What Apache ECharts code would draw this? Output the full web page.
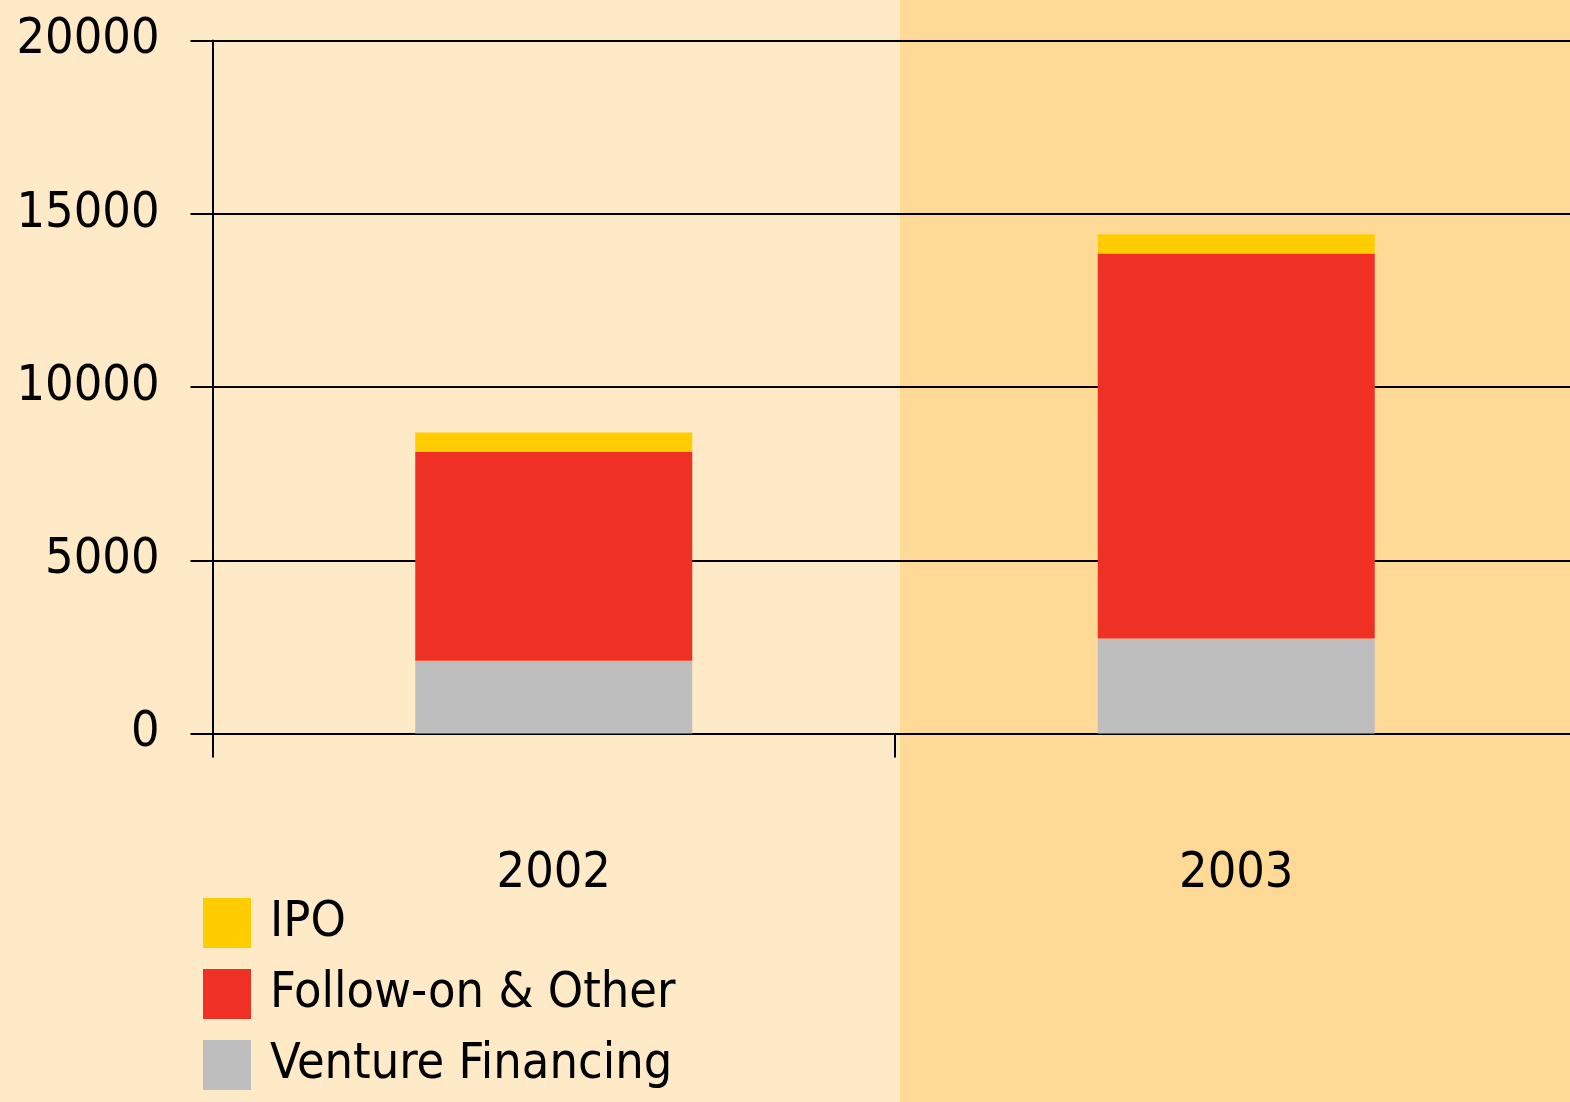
<!DOCTYPE html>
<html>
<head>
<meta charset="utf-8">
<script src="https://cdn.jsdelivr.net/npm/echarts@6/dist/echarts.min.js"></script>
<style>
html,body{margin:0;padding:0;background:#FEEAC6;}
#chart{width:1570px;height:1102px;}
</style>
</head>
<body>
<div id="chart"></div>
<script>
var categories = ['2002', '2003'];
var ventureFinancing = [2100, 2740];
var followOnOther = [6030, 11110];
var ipo = [560, 560];
var yTicks = [0, 5000, 10000, 15000, 20000];

var FONT = "'Liberation Sans Narrow', 'DejaVu Sans Condensed', sans-serif";
var FS = 50;

var chart = echarts.init(document.getElementById('chart'), null, {renderer: 'canvas'});
chart.setOption({
  backgroundColor: '#FEEAC6',
  animation: false,
  graphic: [{
    type: 'rect', z: -100, silent: true,
    shape: {x: 900, y: 0, width: 670, height: 1102},
    style: {fill: '#FEDA96'}
  }],
  grid: {left: 212.5, top: 40.5, width: 1365, height: 693, containLabel: false, outerBoundsMode: 'none'},
  legend: {
    orient: 'vertical', left: 203, top: 898, padding: 0,
    itemWidth: 48, itemHeight: 50, itemGap: 21,
    icon: 'rect',
    data: ['IPO', 'Follow-on & Other', 'Venture Financing'],
    textStyle: {fontFamily: FONT, fontSize: FS, color: '#000', lineHeight: 42, padding: [8, 0, 0, 14]}
  },
  xAxis: {
    type: 'category', data: categories,
    axisLine: {lineStyle: {color: '#000', width: 2}},
    axisTick: {show: true, length: 24, lineStyle: {color: '#000', width: 2}},
    axisLabel: {fontFamily: FONT, fontSize: FS, color: '#000', margin: 116, lineHeight: 50}
  },
  yAxis: {
    type: 'value', min: yTicks[0], max: yTicks[yTicks.length - 1], interval: 5000,
    axisLine: {show: true, lineStyle: {color: '#000', width: 2}},
    axisTick: {show: true, length: 22, lineStyle: {color: '#000', width: 2}},
    splitLine: {show: true, lineStyle: {color: '#000', width: 2}},
    axisLabel: {fontFamily: FONT, fontSize: FS, color: '#000', margin: 53,
      formatter: function (v) { return String(v); }}
  },
  series: [
    {name: 'Venture Financing', type: 'bar', stack: 'total', data: ventureFinancing, barWidth: 277,
     itemStyle: {color: '#BEBEBE'}},
    {name: 'Follow-on & Other', type: 'bar', stack: 'total', data: followOnOther, barWidth: 277,
     itemStyle: {color: '#EE3124'}},
    {name: 'IPO', type: 'bar', stack: 'total', data: ipo, barWidth: 277,
     itemStyle: {color: '#FFCC00'}}
  ]
});
</script>
</body>
</html>
